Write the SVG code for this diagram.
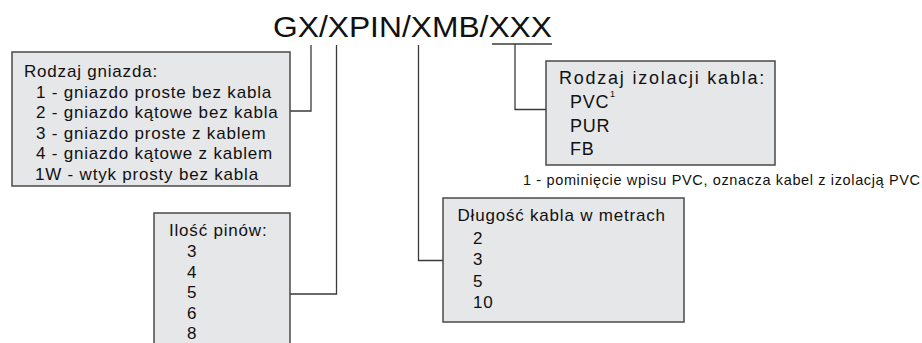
<svg xmlns="http://www.w3.org/2000/svg" width="922" height="343" viewBox="0 0 922 343">
<style>
.box{fill:#e6e7e8;stroke:#4a4a4a;stroke-width:1.5}
.t{font-family:"Liberation Sans",Arial,sans-serif;font-size:17px;fill:#111;letter-spacing:0.8px}
.big{font-size:18px}
.title{font-family:"Liberation Sans",Arial,sans-serif;font-size:29px;fill:#111}
.note{font-family:"Liberation Sans",Arial,sans-serif;font-size:14.5px;fill:#111}
.sup{font-family:"Liberation Sans",Arial,sans-serif;font-size:9px;fill:#111}
.c{fill:none;stroke:#3a3a3a;stroke-width:1.3}
</style>
<rect width="922" height="343" fill="#fff"/>
<g id="title">
<text class="title" x="273" y="37" textLength="279" lengthAdjust="spacingAndGlyphs">GX/XPIN/XMB/XXX</text>
</g>
<g id="connectors">
<line class="c" x1="492" y1="44" x2="552" y2="44"/>
<polyline class="c" points="311,45 311,111 290,111"/>
<polyline class="c" points="336.5,45 336.5,294 290,294"/>
<polyline class="c" points="418.5,45 418.5,260.5 443,260.5"/>
<polyline class="c" points="515,44 515,109.5 546,109.5"/>
</g>
<g id="node-gniazdo">
<rect class="box" x="12" y="52" width="278" height="134"/>
<text class="t" x="24" y="77">Rodzaj gniazda:</text>
<text class="t" x="36" y="97.5">1 - gniazdo proste bez kabla</text>
<text class="t" x="36" y="118">2 - gniazdo kątowe bez kabla</text>
<text class="t" x="36" y="138.5">3 - gniazdo proste z kablem</text>
<text class="t" x="36" y="159">4 - gniazdo kątowe z kablem</text>
<text class="t" x="35" y="179.5">1W - wtyk prosty bez kabla</text>
</g>
<g id="node-piny">
<rect class="box" x="154" y="213" width="136" height="140"/>
<text class="t" x="169" y="236">Ilość pinów:</text>
<text class="t" x="187" y="257">3</text>
<text class="t" x="187" y="277.5">4</text>
<text class="t" x="187" y="298">5</text>
<text class="t" x="187" y="318.5">6</text>
<text class="t" x="187" y="339">8</text>
</g>
<g id="node-dlugosc">
<rect class="box" x="443" y="198" width="241" height="124"/>
<text class="t" x="457.5" y="221">Długość kabla w metrach</text>
<text class="t" x="473" y="243.5">2</text>
<text class="t" x="473" y="265">3</text>
<text class="t" x="473" y="286.5">5</text>
<text class="t" x="473" y="308">10</text>
</g>
<g id="node-izolacja">
<rect class="box" x="546" y="61" width="229" height="104"/>
<text class="t big" x="559" y="84" textLength="206" lengthAdjust="spacing">Rodzaj izolacji kabla:</text>
<text class="t big" x="570" y="108" letter-spacing="0.3">PVC</text>
<text class="sup" x="610" y="97">1</text>
<text class="t big" x="570" y="131.5">PUR</text>
<text class="t big" x="570" y="155">FB</text>
</g>
<g id="footnote">
<text class="note" x="523" y="185" textLength="397" lengthAdjust="spacing">1 - pominięcie wpisu PVC, oznacza kabel z izolacją PVC</text>
</g>
</svg>
